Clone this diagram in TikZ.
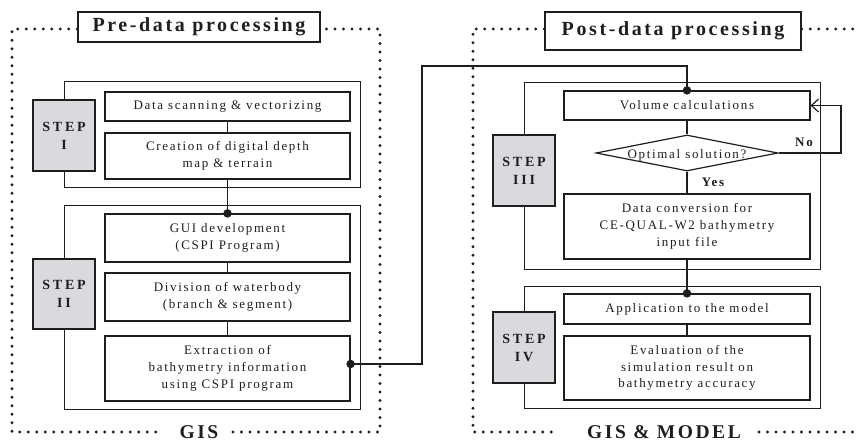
\documentclass[tikz,border=0pt]{standalone}
\usepackage{fontspec}
\setmainfont{Liberation Serif}
\newfontfamily\bodyfont[LetterSpace=13]{Liberation Serif}
\newfontfamily\headfont[LetterSpace=13]{Liberation Serif}
\newfontfamily\stepfont[LetterSpace=20]{Liberation Serif}
\usetikzlibrary{shapes.geometric,arrows.meta}
\definecolor{stepgray}{HTML}{D8DADD}
\definecolor{ink}{HTML}{1E1E1E}

\begin{document}
\begin{tikzpicture}[x=1pt,y=-1pt,
  every node/.style={text=ink},
  procbox/.style={draw=ink, line width=1.2pt, minimum width=245pt, inner sep=0pt,
    align=center, font=\bodyfont\fontsize{13}{16.7}\selectfont},
  stepbox/.style={draw=ink, fill=stepgray, line width=1.2pt, minimum width=62pt,
    minimum height=71pt, inner sep=0pt, align=center,
    font=\stepfont\bfseries\fontsize{14}{18}\selectfont},
  framebox/.style={draw=ink, line width=1pt, minimum width=296pt, inner sep=0pt},
  titlebox/.style={draw=ink, line width=1.5pt, inner sep=0pt,
    font=\headfont\bfseries\fontsize{20}{24}\selectfont},
  bigtag/.style={font=\headfont\bfseries\fontsize{19.5}{22}\selectfont, inner sep=0pt},
  smalltag/.style={font=\headfont\bfseries\fontsize{13}{15}\selectfont, inner sep=0pt},
  dotline/.style={draw=ink, line width=3.2pt, line cap=round, dash pattern=on 0pt off 8.5pt},
  link/.style={draw=ink, line width=1.2pt},
  joint/.style={fill=ink, circle, inner sep=0pt, minimum size=8.5pt}]

\useasboundingbox (0,0) rectangle (858,443);

% ---------- Pre-data processing ----------
\node[titlebox, minimum width=242pt, minimum height=30pt] (titleL) at (199,27) {Pre-data processing};
\node[bigtag] (gisL) at (199,432) {GIS};
\coordinate (fL1) at (12,29);
\coordinate (fL2) at (12,432);
\coordinate (fL3) at (380,432);
\coordinate (fL4) at (380,29);
\coordinate (gisLa) at (161,432);
\coordinate (gisLb) at (233,432);
\draw[dotline] (titleL.west |- fL1) -- (fL1) -- (fL2) -- (gisLa);
\draw[dotline] (gisLb) -- (fL3) -- (fL4) -- (titleL.east |- fL4);

% Step I
\node[framebox, minimum height=106pt] (frameI) at (212,135) {};
\node[stepbox] (stepI) at (64,135.5) {STEP\\I};
\node[procbox, minimum height=29pt] (scan) at (227.5,106.5) {Data scanning \& vectorizing};
\node[procbox, minimum height=46pt] (create) at (227.5,156) {Creation of digital depth\\map \& terrain};

% Step II
\node[framebox, minimum height=203pt] (frameII) at (212,307.5) {};
\node[stepbox, minimum height=70pt] (stepII) at (64,294) {STEP\\II};
\node[procbox, minimum height=48pt] (gui) at (227.5,238) {GUI development\\(CSPI Program)};
\node[procbox, minimum height=48pt] (div) at (227.5,297) {Division of waterbody\\(branch \& segment)};
\node[procbox, minimum height=65pt] (ext) at (227.5,368.5) {Extraction of\\bathymetry information\\using CSPI program};

% ---------- Post-data processing ----------
\node[titlebox, minimum width=256pt, minimum height=38pt] (titleR) at (673,31) {Post-data processing};
\node[bigtag] (gisR) at (664,432) {GIS \& MODEL};
\coordinate (fR1) at (473,29);
\coordinate (fR2) at (473,432);
\coordinate (fR3) at (862,432);
\coordinate (fR4) at (862,29);
\coordinate (gisRa) at (559,432);
\coordinate (gisRb) at (759,432);
\draw[dotline] (titleR.west |- fR1) -- (fR1) -- (fR2) -- (gisRa);
\draw[dotline] (gisRb) -- (fR3);
\draw[dotline] (titleR.east |- fR4) -- (fR4);

% Step III
\node[framebox, minimum height=187pt] (frameIII) at (672,176.5) {};
\node[stepbox] (stepIII) at (524,170.5) {STEP\\III};
\node[procbox, minimum width=246pt, minimum height=29pt] (vol) at (687,105.5) {Volume calculations};
\node[draw=ink, line width=1.2pt, diamond, aspect=5, minimum width=182pt, minimum height=36pt,
  inner sep=0pt, fill=white] (opt) at (687,153) {};
\node[font=\bodyfont\fontsize{13}{15}\selectfont, inner sep=0pt] (optText) at (687,155) {Optimal solution?};
\node[procbox, minimum width=246pt, minimum height=65pt] (conv) at (687,226.5) {Data conversion for\\CE-QUAL-W2 bathymetry\\input file};

% Step IV
\node[framebox, minimum height=122pt] (frameIV) at (672,347) {};
\node[stepbox] (stepIV) at (524,347.5) {STEP\\IV};
\node[procbox, minimum width=246pt, minimum height=30pt] (app) at (687,309) {Application to the model};
\node[procbox, minimum width=246pt, minimum height=64pt] (eval) at (687,368) {Evaluation of the\\simulation result on\\bathymetry accuracy};

% ---------- Connectors ----------
\draw[link] (scan.south) -- (create.north);
\draw[link] (create.south) -- (gui.north);
\draw[link] (gui.south) -- (div.north);
\draw[link] (div.south) -- (ext.north);
\node[joint] at (gui.north) {};

\coordinate (extOut) at ([yshift=4.5pt]ext.east);
\coordinate (bendA) at (422,66);
\draw[link] (extOut) -| (bendA) -| (vol.north);
\node[joint] at (extOut) {};
\node[joint] at (vol.north) {};

\draw[link] (vol.south) -- (opt.north);
\draw[link] (opt.south) -- (conv.north);
\node[smalltag] at (713,182) {Yes};

\coordinate (loopNo) at (841,153);
\draw[link, -{Straight Barb[length=7pt,width=13pt]}] (opt.east) -- (loopNo) |- (vol.east);
\node[smalltag] at (804,142) {No};

\draw[link] (conv.south) -- (app.north);
\node[joint] at (app.north) {};
\draw[link] (app.south) -- (eval.north);

\end{tikzpicture}
\end{document}
